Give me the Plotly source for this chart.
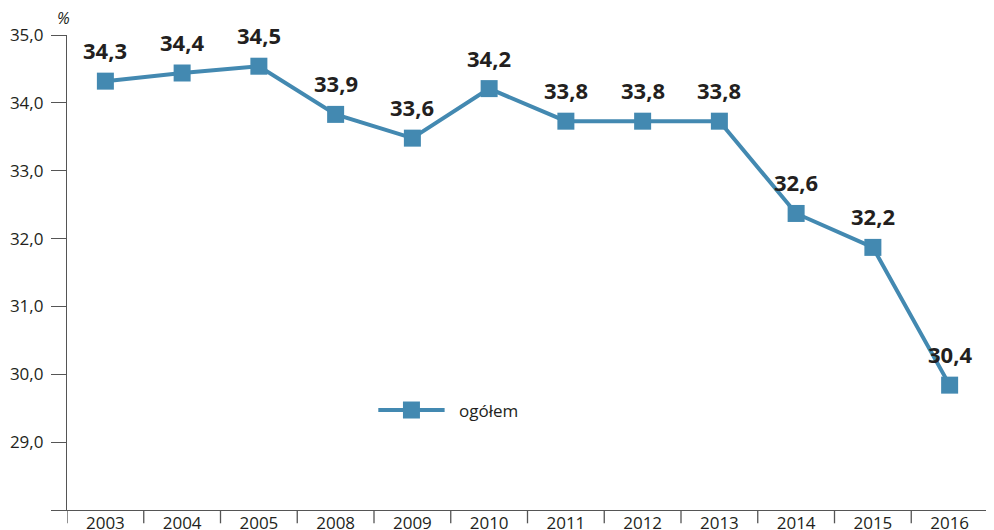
import plotly.graph_objects as go

years = ["2003", "2004", "2005", "2008", "2009", "2010", "2011", "2012", "2013", "2014", "2015", "2016"]
values = [34.32, 34.44, 34.54, 33.83, 33.48, 34.21, 33.73, 33.73, 33.73, 32.37, 31.87, 29.84]
labels = ["34,3", "34,4", "34,5", "33,9", "33,6", "34,2", "33,8", "33,8", "33,8", "32,6", "32,2", "30,4"]
ytick_vals = [28, 29, 30, 31, 32, 33, 34, 35]
ytick_text = ["", "29,0", "30,0", "31,0", "32,0", "33,0", "34,0", "35,0"]
series_name = "ogółem"

COLOR = "#4389B1"
TEXT = "#231F20"
FONT = "Open Sans"

fig = go.Figure()
fig.add_trace(go.Scatter(
    x=years, y=values, mode="lines+markers", name=series_name,
    line=dict(color=COLOR, width=4),
    marker=dict(symbol="square", size=17, color=COLOR),
    showlegend=False,
))

for i, (v, lab) in enumerate(zip(values, labels)):
    fig.add_annotation(xref="x", yref="y", x=i, y=v, text="<b>" + lab + "</b>", showarrow=False,
                       yshift=31, font=dict(family=FONT, size=22, color=TEXT))

# boundary ticks on the x axis
for i in range(len(years) + 1):
    fig.add_shape(type="line", xref="x", yref="paper", x0=i - 0.5, x1=i - 0.5,
                  y0=0, y1=-0.028, line=dict(color="#555", width=1.3))

# custom legend
fig.add_shape(type="line", xref="paper", yref="paper", x0=0.338, x1=0.410, y0=0.2105, y1=0.2105,
              line=dict(color=COLOR, width=4))
fig.add_trace(go.Scatter(x=[0.374], y=[0.2105], xaxis="x2", yaxis="y2", mode="markers",
                         marker=dict(symbol="square", size=17, color=COLOR), showlegend=False,
                         hoverinfo="skip"))
fig.add_annotation(xref="paper", yref="paper", x=0.423, y=0.2105, xanchor="left", yanchor="middle",
                   text=series_name, showarrow=False, font=dict(family=FONT, size=17, color=TEXT))

# % unit
fig.add_annotation(xref="paper", yref="paper", x=0, y=1.0, xanchor="center", yanchor="bottom",
                   xshift=-4, yshift=4, text="<i>%</i>", showarrow=False,
                   font=dict(family=FONT, size=16, color=TEXT))

# the page places the figure 8 px from the top-left corner of the window
fig.update_layout(
    width=986, height=522,
    margin=dict(l=59, r=6, t=27, b=20, autoexpand=False),
    plot_bgcolor="white", paper_bgcolor="white",
    font=dict(family=FONT, size=17, color=TEXT),
    xaxis=dict(type="category", range=[-0.5, 11.5], showline=True, linecolor="#555", linewidth=1.3,
               ticks="", showgrid=False, zeroline=False, automargin=False, ticklabelstandoff=-3,
               tickfont=dict(size=17, color=TEXT)),
    yaxis=dict(range=[28, 35], tickvals=ytick_vals, ticktext=ytick_text, showline=True,
               linecolor="#555", linewidth=1.3, ticks="outside", ticklen=15, tickcolor="#555",
               tickwidth=1.3, showgrid=False, zeroline=False, ticklabelstandoff=4, automargin=False,
               tickfont=dict(size=17, color=TEXT)),
    xaxis2=dict(range=[0, 1], visible=False, overlaying="x"),
    yaxis2=dict(range=[0, 1], visible=False, overlaying="y"),
)

fig.write_html("out.html")
